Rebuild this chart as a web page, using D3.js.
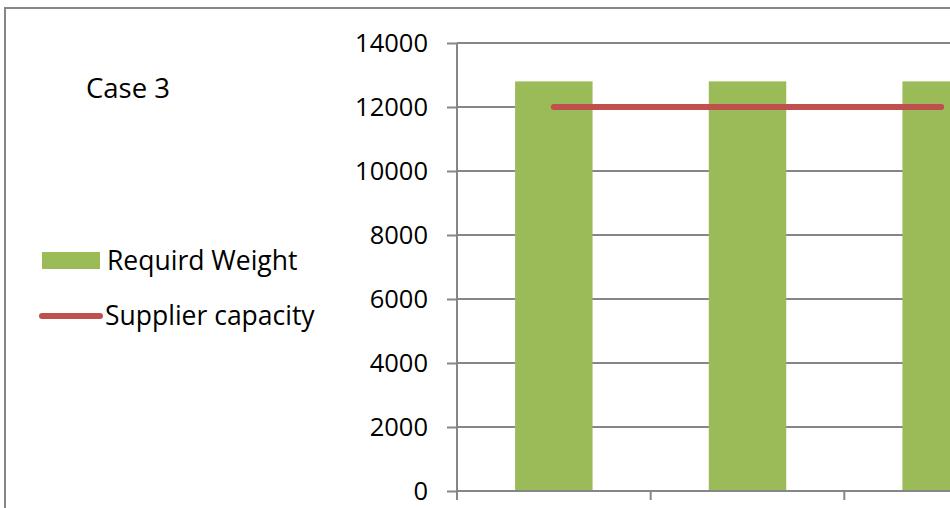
<!DOCTYPE html>
<html>
<head>
<meta charset="utf-8">
<script src="https://cdn.jsdelivr.net/npm/d3@7"></script>
<style>
  html, body { margin: 0; padding: 0; background: #fff; }
  svg { display: block; }
  text { font-family: "Open Sans", "Noto Sans", sans-serif; fill: #000; }
</style>
</head>
<body>
<svg id="chart" width="950" height="508"></svg>
<script>
// Chart data
const categories = ["1", "2", "3"];
const requiredWeight = [12800, 12800, 12800];
const supplierCapacity = [12000, 12000, 12000];
const yTicks = [0, 2000, 4000, 6000, 8000, 10000, 12000, 14000];
const seriesNames = ["Requird Weight", "Supplier capacity"];
const chartTitle = "Case 3";

const GREEN = "#9BBB59";
const RED = "#C0504D";
const GRID = "#868686";

const svg = d3.select("#chart");

// outer chart frame
svg.append("rect")
  .attr("x", 5).attr("y", 8)
  .attr("width", 1000).attr("height", 600)
  .attr("fill", "#fff")
  .attr("stroke", GRID).attr("stroke-width", 2);

const plotLeft = 457, plotRight = 1038, plotTop = 43, plotBottom = 491;

const x = d3.scaleBand()
  .domain(categories)
  .range([plotLeft, plotRight])
  .paddingInner(0.6)
  .paddingOuter(0.3);

// category slots (no gap) for tick marks
const slot = d3.scaleBand().domain(categories).range([plotLeft, plotRight]);

const y = d3.scaleLinear().domain([0, 14000]).range([plotBottom, plotTop]);

// horizontal gridlines
svg.append("g")
  .selectAll("line")
  .data(yTicks.filter(d => d > 0))
  .join("line")
  .attr("x1", plotLeft).attr("x2", plotRight)
  .attr("y1", d => y(d)).attr("y2", d => y(d))
  .attr("stroke", GRID).attr("stroke-width", 2);

// bars
svg.append("g")
  .selectAll("rect")
  .data(categories.map((c, i) => ({ c, v: requiredWeight[i] })))
  .join("rect")
  .attr("x", d => x(d.c))
  .attr("width", x.bandwidth())
  .attr("y", d => y(d.v))
  .attr("height", d => y(0) - y(d.v))
  .attr("fill", GREEN);

// y axis
const yAxis = svg.append("g")
  .attr("transform", `translate(${plotLeft},0)`)
  .call(d3.axisLeft(y).tickValues(yTicks).tickSize(10).tickPadding(19).tickFormat(d3.format("d")));
yAxis.select(".domain").attr("stroke", GRID).attr("stroke-width", 2)
  .attr("d", `M0,${plotTop}V${plotBottom + 9}`);
yAxis.selectAll(".tick line").attr("stroke", GRID).attr("stroke-width", 2);
yAxis.selectAll(".tick text")
  .style("font-family", '"Open Sans", sans-serif')
  .style("font-size", "25.5px").attr("fill", "#000");

// x axis (category boundaries)
const xAxisG = svg.append("g").attr("transform", `translate(0,${plotBottom})`);
xAxisG.append("line")
  .attr("x1", plotLeft).attr("x2", plotRight)
  .attr("stroke", GRID).attr("stroke-width", 2);
xAxisG.selectAll("line.tick")
  .data(categories.slice(1))
  .join("line")
  .attr("class", "tick")
  .attr("x1", d => slot(d)).attr("x2", d => slot(d))
  .attr("y1", 0).attr("y2", 9)
  .attr("stroke", GRID).attr("stroke-width", 2);

// supplier capacity line
const line = d3.line()
  .x((d, i) => x(categories[i]) + x.bandwidth() / 2)
  .y(d => y(d));
svg.append("path")
  .datum(supplierCapacity)
  .attr("d", line)
  .attr("fill", "none")
  .attr("stroke", RED)
  .attr("stroke-width", 6)
  .attr("stroke-linecap", "round");

// title text
svg.append("text")
  .attr("x", 86).attr("y", 98)
  .style("font-size", "27.5px")
  .text(chartTitle);

// legend
const leg = svg.append("g");
leg.append("rect")
  .attr("x", 42).attr("y", 252).attr("width", 58).attr("height", 17)
  .attr("fill", GREEN);
leg.append("text")
  .attr("x", 107).attr("y", 270)
  .style("font-size", "26.5px")
  .text(seriesNames[0]);
leg.append("line")
  .attr("x1", 42).attr("x2", 100).attr("y1", 316).attr("y2", 316)
  .attr("stroke", RED).attr("stroke-width", 6).attr("stroke-linecap", "round");
leg.append("text")
  .attr("x", 105).attr("y", 325)
  .style("font-size", "26.5px")
  .text(seriesNames[1]);
</script>
</body>
</html>
